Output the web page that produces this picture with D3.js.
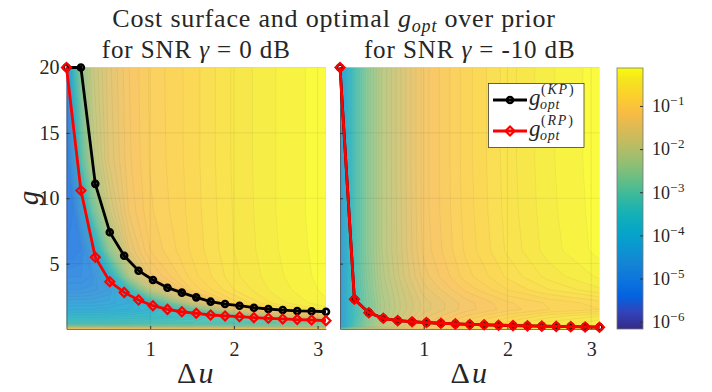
<!DOCTYPE html>
<html>
<head>
<meta charset="utf-8">
<script src="https://cdn.jsdelivr.net/npm/d3@7"></script>
<style>
  body { margin: 0; background: #fff; }
  text { font-family: "Liberation Serif", "Times New Roman", serif; fill: #262626; }
</style>
</head>
<body>
<svg id="chart" width="712" height="392"></svg>
<script>
// Prior width Δu at which the optimal gains were evaluated
const deltaU = [0, 0.172, 0.344, 0.517, 0.689, 0.861, 1.033, 1.206, 1.378, 1.55,
                1.722, 1.894, 2.067, 2.239, 2.411, 2.583, 2.756, 2.928, 3.1];

// Optimal gain, SNR 0 dB
const gKP_0dB = [20, 20, 11.1, 7.4, 5.6, 4.46, 3.75, 3.16, 2.78, 2.42,
                 2.09, 1.91, 1.78, 1.63, 1.53, 1.45, 1.38, 1.36, 1.32];
const gRP_0dB = [20, 10.6, 5.49, 3.62, 2.8, 2.22, 1.78, 1.5, 1.32, 1.2,
                 1.07, 1.0, 0.94, 0.87, 0.82, 0.77, 0.72, 0.69, 0.64];

// Optimal gain, SNR -10 dB (both priors coincide)
const gKP_m10dB = [20, 2.27, 1.25, 0.82, 0.64, 0.56, 0.49, 0.44, 0.39, 0.35,
                   0.32, 0.29, 0.26, 0.24, 0.22, 0.2, 0.18, 0.16, 0.14];
const gRP_m10dB = [20, 2.27, 1.25, 0.82, 0.64, 0.56, 0.49, 0.44, 0.39, 0.35,
                   0.32, 0.29, 0.26, 0.24, 0.22, 0.2, 0.18, 0.16, 0.14];

// Cost surface: log10(cost) on the gridU × gridG lattice, one row per g (ascending)
const gridU = [0, 0.08, 0.17, 0.3, 0.5, 0.75, 1.0, 1.5, 2.0, 2.5, 3.1];
const gridG = [0, 0.2, 0.5, 1, 1.5, 2, 3, 4, 6, 9, 13, 20];

const logCost_0dB = [
  [-1.0, -1.0, -1.0, -1.0, -1.0, -1.0, -1.0, -1.0, -1.0, -1.0, -1.0],
  [-2.8, -2.8, -2.8, -2.8, -2.8, -2.8, -2.8, -2.8, -2.75, -2.7, -2.6],
  [-3.4, -3.4, -3.4, -3.4, -3.4, -3.4, -3.35, -3.3, -3.2, -3.0, -2.7],
  [-3.8, -3.8, -3.8, -3.8, -3.8, -3.75, -3.7, -3.5, -3.0, -1.9, -1.2],
  [-4.2, -4.2, -4.2, -4.2, -4.15, -4.1, -3.9, -3.0, -1.5, -0.75, -0.36],
  [-4.4, -4.4, -4.4, -4.4, -4.35, -4.2, -3.7, -1.8, -0.85, -0.45, -0.22],
  [-4.8, -4.8, -4.8, -4.75, -4.6, -3.5, -2.0, -0.98, -0.6, -0.36, -0.17],
  [-5.0, -5.0, -5.0, -4.9, -4.2, -2.2, -1.35, -0.85, -0.53, -0.33, -0.15],
  [-5.3, -5.3, -5.2, -4.5, -2.6, -1.5, -1.1, -0.78, -0.5, -0.31, -0.14],
  [-5.4, -5.3, -4.6, -3.0, -1.85, -1.28, -1.02, -0.76, -0.49, -0.3, -0.13],
  [-5.4, -4.7, -3.2, -2.1, -1.6, -1.22, -0.99, -0.75, -0.48, -0.3, -0.13],
  [-5.3, -3.6, -2.6, -1.95, -1.55, -1.2, -0.98, -0.75, -0.48, -0.3, -0.13]
];

const logCost_m10dB = [
  [-3.0, -2.6, -2.3, -2.0, -1.7, -1.4, -1.15, -0.85, -0.6, -0.42, -0.3],
  [-4.5, -3.8, -3.2, -2.6, -2.0, -1.6, -1.25, -0.9, -0.62, -0.42, -0.3],
  [-4.6, -3.9, -3.3, -2.7, -2.1, -1.7, -1.35, -0.95, -0.68, -0.48, -0.35],
  [-4.6, -3.9, -3.4, -2.8, -2.2, -1.8, -1.45, -1.1, -0.85, -0.65, -0.5],
  [-4.6, -3.9, -3.4, -2.85, -2.25, -1.85, -1.55, -1.25, -1.05, -0.9, -0.8],
  [-4.6, -3.9, -3.4, -2.85, -2.25, -1.85, -1.55, -1.25, -1.02, -0.88, -0.75],
  [-4.6, -3.9, -3.35, -2.8, -2.2, -1.8, -1.45, -1.08, -0.8, -0.6, -0.42],
  [-4.6, -3.9, -3.3, -2.75, -2.15, -1.72, -1.35, -0.95, -0.68, -0.46, -0.28],
  [-4.6, -3.9, -3.3, -2.7, -2.1, -1.68, -1.27, -0.88, -0.58, -0.35, -0.16],
  [-4.6, -3.9, -3.3, -2.7, -2.1, -1.67, -1.25, -0.86, -0.56, -0.33, -0.15],
  [-4.6, -3.9, -3.3, -2.7, -2.1, -1.66, -1.25, -0.85, -0.55, -0.32, -0.14],
  [-4.6, -3.9, -3.3, -2.7, -2.1, -1.66, -1.25, -0.85, -0.55, -0.32, -0.14]
];

// Axis ticks
const xTicks = [1, 2, 3];
const yTicks = [5, 10, 15, 20];
const cbarTicks = [-1, -2, -3, -4, -5, -6];
const snrLabels = ["0", "-10"];

// Colour limits (log10 cost)
const cmin = -6.17, cmax = -0.12;

// Parula colormap key colours
const parula = [
  [0.2081, 0.1663, 0.5292], [0.1959, 0.2645, 0.7279], [0.0117, 0.3875, 0.8820],
  [0.0498, 0.4586, 0.8641], [0.0793, 0.5200, 0.8312], [0.0343, 0.5966, 0.8199],
  [0.0228, 0.6535, 0.7768], [0.0843, 0.6928, 0.7062], [0.2178, 0.7250, 0.6193],
  [0.3953, 0.7459, 0.5244], [0.5709, 0.7485, 0.4494], [0.7184, 0.7411, 0.3905],
  [0.8507, 0.7299, 0.3360], [0.9739, 0.7314, 0.2666], [0.9880, 0.8066, 0.1794],
  [0.9589, 0.8949, 0.1132], [0.9763, 0.9831, 0.0538]
];
const parulaPos = [0, 4, 8, 12, 16, 20, 24, 28, 32, 36, 40, 44, 48, 52, 56, 60, 63].map(i => i / 63);
const parulaColors = parula.map(c => d3.rgb(c[0] * 255, c[1] * 255, c[2] * 255).formatHex());
const cmap = d3.scaleLinear().domain(parulaPos).range(parulaColors).interpolate(d3.interpolateRgb).clamp(true);
const colorOf = v => cmap((v - cmin) / (cmax - cmin));

const svg = d3.select("#chart");
const defs = svg.append("defs");

const plotTop = 67.5, plotBottom = 329;
const y = d3.scaleLinear().domain([0, 20]).range([plotBottom, plotTop]);

const panels = [
  { left: 66.5, right: 326, kp: gKP_0dB, rp: gRP_0dB, cost: logCost_0dB, snr: snrLabels[0], yLabels: true, legend: false },
  { left: 340, right: 599.5, kp: gKP_m10dB, rp: gRP_m10dB, cost: logCost_m10dB, snr: snrLabels[1], yLabels: false, legend: true }
];

const levels = d3.range(-6.2, 0.0001, 0.1);
const lineGen = x => d3.line().x((d, i) => x(deltaU[i])).y(d => y(d));

const diamondSym = d3.symbol(d3.symbolSquare, 40);

// KP: thick-edged circles; RP: hollow diamonds
function drawMarkers(sel, pts, kind) {
  if (kind === "kp") {
    sel.selectAll("circle.m").data(pts).join("circle")
      .attr("class", "m")
      .attr("cx", d => d[0]).attr("cy", d => d[1]).attr("r", 3)
      .attr("fill", "none").attr("stroke", "#000").attr("stroke-width", 2.6);
  } else {
    sel.selectAll("path.m").data(pts).join("path")
      .attr("class", "m")
      .attr("d", diamondSym)
      .attr("transform", d => `translate(${d[0]},${d[1]}) rotate(45)`)
      .attr("fill", "none").attr("stroke", "#ff0000").attr("stroke-width", 2.2);
  }
}

panels.forEach((p, k) => {
  const x = d3.scaleLinear().domain([0, 3.1]).range([p.left, p.right]);
  const n = gridU.length, m = gridG.length;

  defs.append("clipPath").attr("id", "plot-clip-" + k)
    .append("rect")
    .attr("x", p.left).attr("y", plotTop)
    .attr("width", p.right - p.left).attr("height", plotBottom - plotTop);

  // Filled contour surface on the non-uniform grid
  const iu = d3.scaleLinear().domain(d3.range(n)).range(gridU).clamp(true);
  const ig = d3.scaleLinear().domain(d3.range(m)).range(gridG).clamp(true);
  const proj = d3.geoTransform({
    point(px, py) { this.stream.point(x(iu(px - 0.5)), y(ig(py - 0.5))); }
  });
  const path = d3.geoPath(proj);
  const bands = d3.contours().size([n, m]).thresholds(levels)(p.cost.flat());

  const surf = svg.append("g")
    .attr("clip-path", `url(#plot-clip-${k})`)
    .attr("opacity", 0.8);
  surf.selectAll("path").data(bands).join("path")
    .attr("d", path)
    .attr("fill", d => colorOf(d.value + 0.05))
    .attr("stroke", d => d3.color(colorOf(d.value + 0.05)).darker(0.35).formatHex())
    .attr("stroke-width", 0.5);

  // Grid
  const grid = svg.append("g").attr("stroke", "#000").attr("stroke-opacity", 0.1).attr("stroke-width", 0.7);
  grid.selectAll("line.gx").data(xTicks).join("line").attr("class", "gx")
    .attr("x1", d => x(d)).attr("x2", d => x(d)).attr("y1", plotTop).attr("y2", plotBottom);
  grid.selectAll("line.gy").data(yTicks).join("line").attr("class", "gy")
    .attr("x1", p.left).attr("x2", p.right).attr("y1", d => y(d)).attr("y2", d => y(d));

  // Axes
  const xAxis = svg.append("g")
    .attr("transform", `translate(0,${plotBottom})`)
    .call(d3.axisBottom(x).tickValues(xTicks).tickSizeInner(-3).tickSizeOuter(0).tickPadding(13).tickFormat(d3.format("d")));
  const yAxis = svg.append("g")
    .attr("transform", `translate(${p.left},0)`)
    .call(d3.axisLeft(y).tickValues(yTicks).tickSizeInner(-3).tickSizeOuter(0).tickPadding(7).tickFormat(p.yLabels ? d3.format("d") : () => ""));
  [xAxis, yAxis].forEach(a => {
    a.selectAll("path.domain").attr("stroke", "#555").attr("stroke-width", 0.8);
    a.selectAll("line").attr("stroke", "#333");
    a.selectAll("text").attr("font-size", 20).attr("font-family", null).style("fill", "#262626");
  });

  // Optimal gain curves
  const kpPts = p.kp.map((g, i) => [x(deltaU[i]), y(g)]);
  const rpPts = p.rp.map((g, i) => [x(deltaU[i]), y(g)]);
  svg.append("path").datum(p.kp).attr("d", lineGen(x)).attr("fill", "none").attr("stroke", "#000").attr("stroke-width", 2.8);
  drawMarkers(svg.append("g"), kpPts, "kp");
  svg.append("path").datum(p.rp).attr("d", lineGen(x)).attr("fill", "none").attr("stroke", "#ff0000").attr("stroke-width", 2.8);
  drawMarkers(svg.append("g"), rpPts, "rp");

  // Panel subtitle
  const cx = (p.left + p.right) / 2;
  const st = svg.append("text").attr("x", cx).attr("y", 58).attr("text-anchor", "middle")
    .attr("font-size", 25).attr("letter-spacing", 0.9);
  st.append("tspan").text("for SNR ");
  st.append("tspan").attr("font-style", "italic").text("γ");
  st.append("tspan").text(" = " + p.snr + " dB");

  // x label
  const xl = svg.append("text").attr("x", cx).attr("y", 383).attr("text-anchor", "middle")
    .attr("font-size", 30).attr("letter-spacing", 2);
  xl.append("tspan").text("Δ");
  xl.append("tspan").attr("font-style", "italic").text("u");

  if (p.yLabels) {
    svg.append("text")
      .attr("transform", `translate(38,198) rotate(-90)`)
      .attr("text-anchor", "middle").attr("font-size", 29).attr("font-style", "italic")
      .text("g");
  }

  if (p.legend) {
    const lg = svg.append("g");
    lg.append("rect").attr("x", 488.5).attr("y", 83.5).attr("width", 95.5).attr("height", 64)
      .attr("fill", "#fff").attr("stroke", "#262626").attr("stroke-width", 0.7);
    const entries = [
      { kind: "kp", color: "#000", sup: "KP", yy: 100 },
      { kind: "rp", color: "#ff0000", sup: "RP", yy: 131 }
    ];
    entries.forEach(e => {
      lg.append("line").attr("x1", 493).attr("x2", 527).attr("y1", e.yy).attr("y2", e.yy)
        .attr("stroke", e.color).attr("stroke-width", 2.8);
      drawMarkers(lg.append("g"), [[510, e.yy]], e.kind);
      lg.append("text").attr("font-size", 23).attr("font-style", "italic")
        .attr("x", 529).attr("y", e.yy + 5).text("g");
      const sp = lg.append("text").attr("font-size", 14).attr("x", 541).attr("y", e.yy - 6)
        .attr("letter-spacing", 1.8);
      sp.append("tspan").text("(");
      sp.append("tspan").attr("font-style", "italic").text(e.sup);
      sp.append("tspan").text(")");
      lg.append("text").attr("font-size", 14).attr("font-style", "italic")
        .attr("x", 540).attr("y", e.yy + 9).attr("letter-spacing", 0.8).text("opt");
    });
  }
});

// Main title
const title = svg.append("text").attr("x", 334).attr("y", 27).attr("text-anchor", "middle")
  .attr("font-size", 26).attr("letter-spacing", 0.8);
title.append("tspan").text("Cost surface and optimal ");
title.append("tspan").attr("font-style", "italic").text("g");
title.append("tspan").attr("font-style", "italic").attr("font-size", 18).attr("dy", 5).text("opt");
title.append("tspan").attr("dy", -5).text(" over prior");

// Colorbar
const cb = { x: 617, y: 68, w: 26, h: 261 };
const grad = defs.append("linearGradient").attr("id", "cbar-grad")
  .attr("x1", 0).attr("y1", 1).attr("x2", 0).attr("y2", 0);
grad.selectAll("stop").data(parulaPos).join("stop")
  .attr("offset", d => d)
  .attr("stop-color", (d, i) => parulaColors[i]);
svg.append("rect").attr("x", cb.x).attr("y", cb.y).attr("width", cb.w).attr("height", cb.h)
  .attr("fill", "url(#cbar-grad)").attr("stroke", "#777").attr("stroke-width", 0.8);
const cScale = d3.scaleLinear().domain([cmin, cmax]).range([cb.y + cb.h, cb.y]);
const cAxis = svg.append("g").attr("transform", `translate(${cb.x + cb.w},0)`)
  .call(d3.axisRight(cScale).tickValues(cbarTicks).tickSizeInner(-3).tickSizeOuter(0).tickPadding(9));
cAxis.select("path.domain").remove();
cAxis.selectAll("line").attr("stroke", "#333");
cAxis.selectAll("text").attr("font-size", 18).attr("font-family", null).style("fill", "#262626")
  .each(function (d) {
    const t = d3.select(this).text("");
    t.append("tspan").text("10");
    t.append("tspan").attr("font-size", 13).attr("dy", -7).attr("letter-spacing", 0.6).text("−" + Math.abs(d));
  });
</script>
</body>
</html>
